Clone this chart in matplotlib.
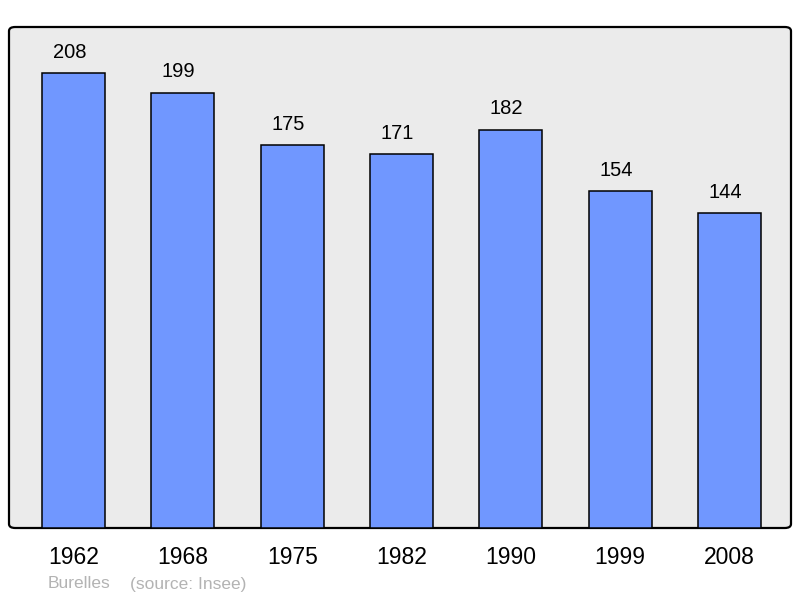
import matplotlib.pyplot as plt
from matplotlib.patches import FancyBboxPatch

plt.rcParams['font.family'] = ['Liberation Sans', 'DejaVu Sans']

years = ["1962", "1968", "1975", "1982", "1990", "1999", "2008"]
population = [208, 199, 175, 171, 182, 154, 144]

fig = plt.figure(figsize=(8, 5.98), dpi=100)
ax = fig.add_axes([9 / 800, 70 / 598, 782 / 800, 501 / 598])
ax.set_xlim(-0.59, len(years) - 1 + 0.562)
ax.set_ylim(0, 229)
ax.axis('off')

# panel with rounded corners
panel = FancyBboxPatch((0, 0), 1, 1, boxstyle="round,pad=0,rounding_size=0.008",
                       transform=ax.transAxes, facecolor='#ebebeb',
                       edgecolor='black', linewidth=1.6, zorder=0, clip_on=False)
ax.add_patch(panel)

x = range(len(years))
ax.bar(x, population, width=0.576, color='#7097ff', edgecolor='black',
       linewidth=1.1, zorder=2)

for i, v in enumerate(population):
    ax.annotate(str(v), (i, v), textcoords="offset points", xytext=(-3, 15),
                ha='center', va='center', fontsize=14.5, color='black')

for i, y in enumerate(years):
    ax.text(i, -13.5, y, ha='center', va='center', fontsize=16.5, color='black',
            transform=ax.transData, clip_on=False)

fig.text(48 / 800, 1 - 584 / 598, "Burelles", fontsize=12.5, color='#b3b3b3',
         va='center', ha='left')
fig.text(130 / 800, 1 - 584 / 598, "(source: Insee)", fontsize=12.5, color='#b3b3b3',
         va='center', ha='left')

fig.savefig("out.png", dpi=100)
